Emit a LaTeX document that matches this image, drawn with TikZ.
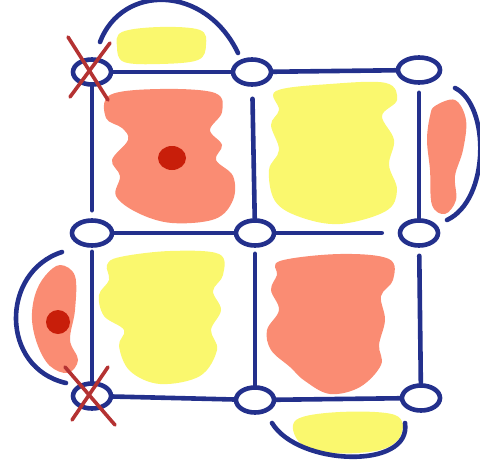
\documentclass[tikz,border=0pt]{standalone}
\usetikzlibrary{shapes.geometric}
\definecolor{navy}{RGB}{35,48,140}
\definecolor{salmon}{RGB}{250,140,115}
\definecolor{yel}{RGB}{250,248,110}
\definecolor{reddot}{RGB}{200,30,10}
\definecolor{xred}{RGB}{180,50,50}
\tikzset{
  joint/.style={draw=navy, line width=2.3pt, ellipse, inner sep=0pt, minimum width=19pt, minimum height=12.5pt},
  wire/.style={draw=navy, line width=2.3pt, line cap=round},
  arcline/.style={draw=navy, line width=2.3pt, line cap=round},
  cross/.style={draw=xred, line width=1.8pt, line cap=round},
}
\begin{document}
\begin{tikzpicture}[x=0.5pt, y=-0.5pt]
\useasboundingbox (0,0) rectangle (480,465);
% blobs
\fill[yel] plot[smooth cycle, tension=0.6] coordinates {(122,32) (160,27) (200,30) (206,45) (198,60) (160,64) (124,62) (117,47)};
\fill[salmon] plot[smooth cycle, tension=0.6] coordinates {(110,95) (160,89) (215,93) (222,112) (210,130) (222,145) (216,160) (233,176) (233,200) (215,219) (172,223) (138,213) (116,196) (120,176) (112,160) (128,140) (122,128) (106,118)};
\fill[reddot] (172,158) ellipse [x radius=14, y radius=12];
\fill[yel] plot[smooth cycle, tension=0.6] coordinates {(276,91) (330,84) (386,83) (397,100) (382,116) (394,140) (389,165) (397,190) (386,211) (340,224) (300,217) (275,201) (269,170) (279,150) (271,125) (279,110)};
\fill[salmon] plot[smooth cycle, tension=0.6] coordinates {(435,106) (455,100) (466,120) (463,150) (455,176) (456,200) (445,214) (432,205) (430,170) (427,140) (430,116)};
\fill[yel] plot[smooth cycle, tension=0.6] coordinates {(120,257) (170,251) (219,254) (223,275) (213,291) (221,310) (211,330) (217,350) (200,376) (160,384) (130,371) (119,346) (124,330) (104,316) (99,295) (109,280) (107,265)};
\fill[salmon] plot[smooth cycle, tension=0.6] coordinates {(280,261) (340,254) (389,259) (393,280) (381,296) (385,320) (379,345) (381,365) (360,387) (330,394) (305,381) (290,367) (271,350) (267,330) (279,310) (271,290) (277,275)};
\fill[salmon] plot[smooth cycle, tension=0.6] coordinates {(60,265) (75,276) (75,310) (70,340) (78,360) (68,373) (50,366) (38,346) (32,320) (35,295) (45,276)};
\fill[reddot] (58,322) circle [radius=12];
\fill[yel] plot[smooth cycle, tension=0.6] coordinates {(296,420) (340,412) (395,415) (401,435) (380,450) (330,453) (300,443)};
% joints
\node[joint] (a1) at (92,72) {};
\node[joint] (a2) at (252,72) {};
\node[joint, minimum width=21pt] (a3) at (419,70) {};
\node[joint, minimum width=20pt] (b1) at (92,233) {};
\node[joint] (b2) at (255,233) {};
\node[joint] (b3) at (419,233) {};
\node[joint] (c1) at (92,396) {};
\node[joint] (c2) at (255,400) {};
\node[joint] (c3) at (421,398) {};
% wires
\draw[wire] (a1) -- (a2);
\draw[wire] (a2) -- (a3);
\draw[wire, shorten >=4pt] (a1) -- (b1);
\draw[wire, shorten <=6pt] (a2) -- (b2);
\draw[wire, shorten <=4pt] (a3) -- (b3);
\draw[wire] (b1) -- (b2);
\draw[wire, shorten >=8pt] (b2) -- (b3);
\draw[wire, shorten <=2pt] (b1) -- (c1);
\draw[wire, shorten <=3pt] (b2) -- (c2);
\draw[wire, shorten <=4pt] (b3) -- (c3);
\draw[wire] (c1) -- (c2);
\draw[wire] (c2) -- (c3);
% arcs
\coordinate (t1) at (100,42);
\coordinate (t2) at (238,53);
\draw[arcline] (t1) .. controls (122,-16) and (205,-16) .. (t2);
\coordinate (r1) at (455,88);
\coordinate (r2) at (447,220);
\draw[arcline] (r1) .. controls (490,105) and (490,200) .. (r2);
\coordinate (l1) at (62,252);
\coordinate (l2) at (66,383);
\draw[arcline] (l1) .. controls (0,272) and (0,368) .. (l2);
\coordinate (d1) at (272,423);
\coordinate (d2) at (405,423);
\draw[arcline] (d1) .. controls (298,466) and (412,470) .. (d2);
% crosses
\draw[cross] (68,37) -- (108,100);
\draw[cross] (110,43) -- (70,97);
\draw[cross] (72,420) -- (108,367);
\draw[cross] (65,367) -- (115,425);
\end{tikzpicture}
\end{document}
